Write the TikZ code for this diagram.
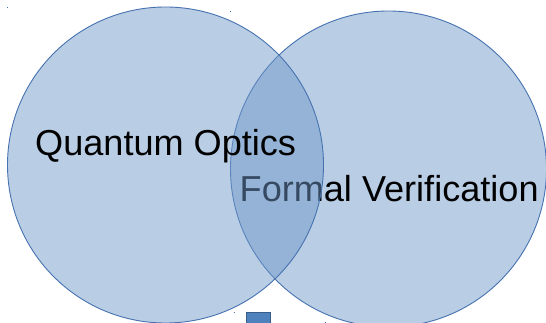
\documentclass[tikz,border=0pt]{standalone}
\usepackage{fontspec}
\setmainfont{Liberation Sans}
\definecolor{setfill}{RGB}{111,152,201}
\definecolor{setline}{RGB}{70,114,176}
\definecolor{boxfill}{RGB}{79,129,189}
\definecolor{boxline}{RGB}{56,93,138}
\begin{document}
\begin{tikzpicture}[x=1pt,y=-1pt,
  setcircle/.style={circle,draw=setline,line width=0.9pt,fill=setfill,fill opacity=0.486,draw opacity=1,inner sep=0pt},
  setlabel/.style={anchor=base west,inner sep=0pt,font=\fontsize{36.1}{40}\selectfont,text=black},
  dotmark/.style={fill=setline,inner sep=0pt,minimum size=1pt}]
\useasboundingbox (0,0) rectangle (546,323);
\node[setcircle,minimum size=316pt] (R) at (388.5,169) {};
\node[setlabel] (Rt) at (239.5,202) {Formal Verification};
\node[setcircle,minimum size=316pt] (L) at (165.5,165) {};
\node[setlabel] (Lt) at (35,156) {Quantum Optics};
\node[draw=boxline,fill=boxfill,line width=0.6pt,inner sep=0pt,minimum width=24pt,minimum height=12pt,anchor=north west] (B) at (246,311.5) {};
\node[dotmark] (d1) at (7,8) {};
\node[dotmark] (d2) at (230,12) {};
\node[dotmark] (d3) at (234,312) {};
\node[dotmark] (d4) at (325,322) {};
\end{tikzpicture}
\end{document}
